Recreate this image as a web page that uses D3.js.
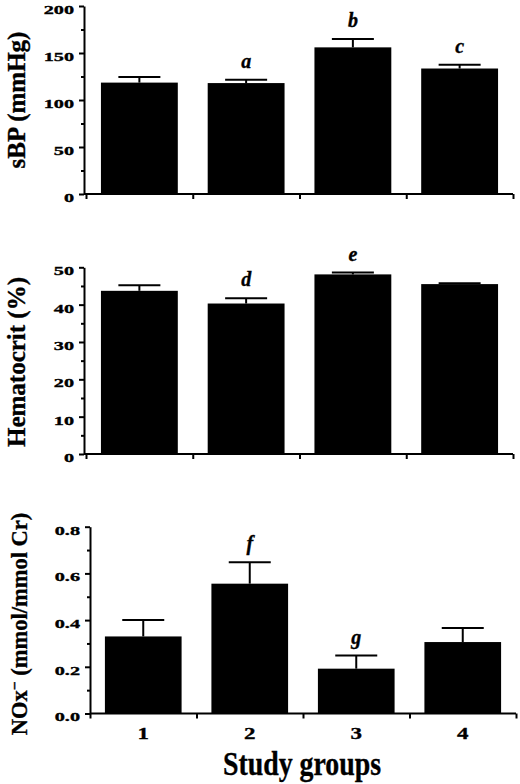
<!DOCTYPE html>
<html>
<head>
<meta charset="utf-8">
<script src="https://cdn.jsdelivr.net/npm/d3@7"></script>
<style>
  body { margin: 0; background: #fff; }
  svg text { font-family: "Liberation Serif", "Times New Roman", serif; font-weight: bold; fill: #000; stroke: #000; stroke-width: 0.35px; }
</style>
</head>
<body>
<div id="chart"></div>
<script>
// study groups on the x axis
var groups = ["1", "2", "3", "4"];

// systolic blood pressure (mmHg)
var sbpMean = [118.5, 118, 156, 133.5];
var sbpErr = [6, 3.6, 9, 4];
var sbpMarks = ["", "a", "b", "c"];
var sbpTicks = [0, 50, 100, 150, 200];
var sbpMinor = [25, 75, 125, 175];

// hematocrit (%)
var hctMean = [43.7, 40.3, 48.1, 45.5];
var hctErr = [1.5, 1.4, 0.5, 0.2];
var hctMarks = ["", "d", "e", ""];
var hctTicks = [0, 10, 20, 30, 40, 50];
var hctMinor = [5, 15, 25, 35, 45];

// urinary NOx- (mmol/mmol Cr)
var noxMean = [0.33, 0.556, 0.192, 0.306];
var noxErr = [0.07, 0.092, 0.056, 0.06];
var noxMarks = ["", "f", "g", ""];
var noxTicks = [0, 0.2, 0.4, 0.6, 0.8];
var noxMinor = [0.1, 0.3, 0.5, 0.7];

var W = 520, H = 784;

var svg = d3.select("#chart")
    .append("svg")
    .attr("width", W)
    .attr("height", H);

function drawPanel(p) {
    var g = svg.append("g").attr("class", "panel");

    var x = d3.scaleBand()
        .domain(groups)
        .range([p.left, p.right])
        .paddingInner(0.28)
        .paddingOuter(0.14);

    var y = d3.scaleLinear()
        .domain([0, p.max])
        .range([p.bottom, p.top]);

    // minor ticks first
    g.append("g")
        .attr("transform", "translate(" + p.axisX + ",0)")
        .call(d3.axisLeft(y).tickValues(p.minor).tickSize(3).tickFormat(""))
        .call(function(a) { a.select(".domain").remove(); })
        .selectAll("line").attr("stroke", "#000").attr("stroke-width", 2);

    var yAxis = g.append("g")
        .attr("transform", "translate(" + p.axisX + ",0)")
        .call(d3.axisLeft(y).tickValues(p.ticks).tickSize(5).tickSizeOuter(0).tickFormat(p.fmt));
    yAxis.select(".domain").attr("stroke", "#000").attr("stroke-width", 2);
    yAxis.selectAll("line").attr("stroke", "#000").attr("stroke-width", 2);
    yAxis.selectAll("text")
        .style("font-size", "13.5px")
        .attr("dy", "0.55em")
        .attr("x", -10 / 1.5)
        .attr("transform", "scale(1.5,1)");

    // x axis: ticks at the group boundaries
    var xb = d3.scaleLinear().domain([0, groups.length]).range([p.left, p.right]);
    var xAxis = g.append("g")
        .attr("transform", "translate(0," + p.bottom + ")")
        .call(d3.axisBottom(xb).tickValues(d3.range(groups.length + 1)).tickSize(5).tickSizeOuter(0).tickFormat(""));
    xAxis.select(".domain")
        .attr("d", "M" + p.axisX + ",0H" + p.right)
        .attr("stroke", "#000").attr("stroke-width", 2);
    xAxis.selectAll("line").attr("stroke", "#000").attr("stroke-width", 2);

    if (p.showLabels) {
        g.append("g")
            .selectAll("text")
            .data(groups)
            .enter()
            .append("text")
            .attr("transform", function(d) {
                return "translate(" + (x(d) + x.bandwidth() / 2) + "," + (p.bottom + 25) + ") scale(1.35,1)";
            })
            .attr("text-anchor", "middle")
            .style("font-size", "17px")
            .text(function(d) { return d; });
    }

    // bars
    g.append("g")
        .selectAll("rect")
        .data(p.mean)
        .enter()
        .append("rect")
        .attr("x", function(d, i) { return x(groups[i]); })
        .attr("y", function(d) { return y(d); })
        .attr("width", x.bandwidth())
        .attr("height", function(d) { return y(0) - y(d); })
        .attr("fill", "#000");

    // error bars (upper only)
    var eb = g.append("g").attr("stroke", "#000").attr("stroke-width", 2);
    p.mean.forEach(function(m, i) {
        var cx = x(groups[i]) + x.bandwidth() / 2;
        var top = y(m + p.err[i]);
        eb.append("line")
            .attr("x1", cx).attr("x2", cx)
            .attr("y1", y(m)).attr("y2", top);
        eb.append("line")
            .attr("x1", cx - 21).attr("x2", cx + 21)
            .attr("y1", top).attr("y2", top);
    });

    // significance letters
    g.append("g")
        .selectAll("text")
        .data(p.marks)
        .enter()
        .append("text")
        .attr("x", function(d, i) { return x(groups[i]) + x.bandwidth() / 2; })
        .attr("y", function(d, i) { return y(p.mean[i] + p.err[i]) - 12; })
        .attr("text-anchor", "middle")
        .style("font-size", "20px")
        .style("font-style", "italic")
        .text(function(d) { return d; });

    // y axis title
    var title = g.append("text")
        .attr("transform", "translate(" + p.titleX + "," + p.titleY + ") rotate(-90)")
        .attr("text-anchor", "middle")
        .style("font-size", p.titleSize + "px");
    p.title.forEach(function(t) {
        var ts = title.append("tspan").text(t.text);
        if (t.sup) ts.attr("dy", "-0.45em").style("font-size", "0.7em");
        if (t.down) ts.attr("dy", "0.3em");
    });
}

drawPanel({
    mean: sbpMean, err: sbpErr, marks: sbpMarks, ticks: sbpTicks, minor: sbpMinor,
    max: 200, fmt: d3.format("d"),
    axisX: 84, left: 86, right: 513, top: 6, bottom: 194,
    title: [{text: "sBP (mmHg)"}], titleX: 25, titleY: 100, titleSize: 25,
    showLabels: false
});

drawPanel({
    mean: hctMean, err: hctErr, marks: hctMarks, ticks: hctTicks, minor: hctMinor,
    max: 50, fmt: d3.format("d"),
    axisX: 84, left: 86, right: 513, top: 267.3, bottom: 454,
    title: [{text: "Hematocrit (%)"}], titleX: 25, titleY: 362, titleSize: 25,
    showLabels: false
});

drawPanel({
    mean: noxMean, err: noxErr, marks: noxMarks, ticks: noxTicks, minor: noxMinor,
    max: 0.8, fmt: d3.format(".1f"),
    axisX: 90, left: 90, right: 516, top: 526.7, bottom: 713.5,
    title: [{text: "NOx"}, {text: "\u2212", sup: true}, {text: " (mmol/mmol Cr)", down: true}],
    titleX: 27, titleY: 624, titleSize: 22.5,
    showLabels: true
});

// shared x axis title
svg.append("text")
    .attr("transform", "translate(302,775) scale(0.82,1)")
    .attr("text-anchor", "middle")
    .style("font-size", "34px")
    .text("Study groups");
</script>
</body>
</html>
